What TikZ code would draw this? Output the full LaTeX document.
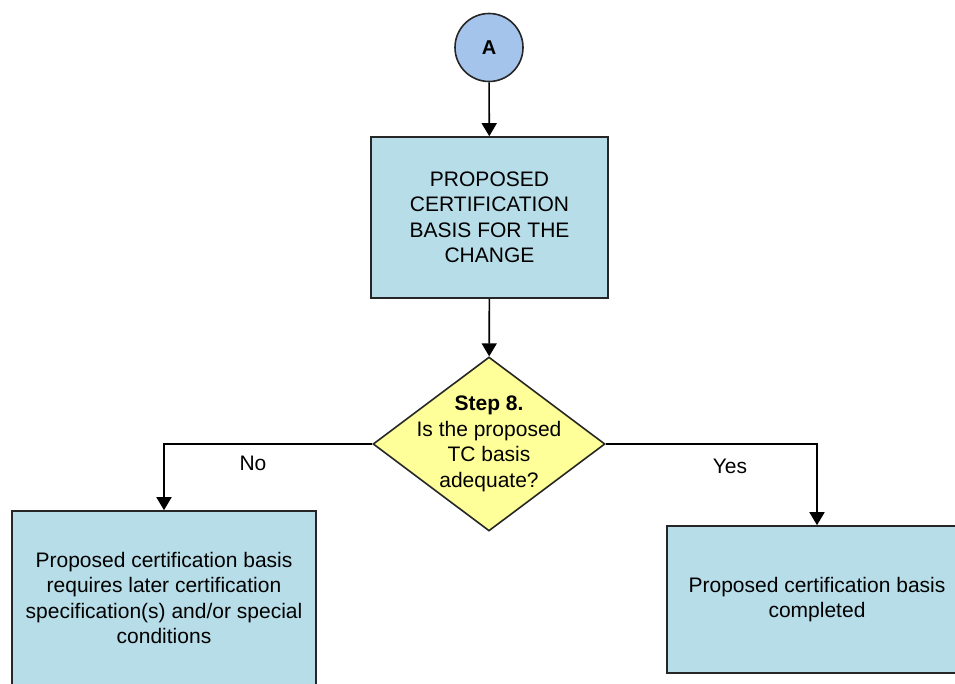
\documentclass[tikz,border=0pt]{standalone}
\usepackage{fontspec}
\setmainfont{Liberation Sans}
\usetikzlibrary{shapes.geometric,arrows.meta}

\definecolor{boxblue}{RGB}{183,221,232}
\definecolor{circblue}{RGB}{165,196,236}
\definecolor{qyellow}{RGB}{255,255,153}
\definecolor{edgegray}{RGB}{38,38,38}

\begin{document}
\begin{tikzpicture}[x=1pt,y=-1pt,
  every node/.style={font=\fontsize{21}{25.5}\selectfont, text=black},
  procbox/.style={rectangle, draw=edgegray, line width=1.6pt, fill=boxblue,
                  inner sep=0pt, align=center},
  connector/.style={circle, draw=edgegray, line width=1.6pt, fill=circblue,
                    minimum size=68pt, inner sep=0pt,
                    font=\fontsize{20}{24}\selectfont\bfseries},
  decision/.style={diamond, draw=edgegray, line width=1.6pt, fill=qyellow,
                   minimum width=232pt, minimum height=174pt, inner sep=0pt},
  qtext/.style={align=center},
  flow/.style={draw=black, line width=1.6pt,
               -{Triangle[width=15pt,length=13pt]}},
  branch/.style={inner sep=0pt}
]
  \useasboundingbox (0,0) rectangle (955,684);
  \clip (0,0) rectangle (955,684);
  \fill[white] (0,0) rectangle (955,684);

  % off-page connector and the main process box
  \node[connector] (A) at (489,47.5) {A};
  \node[procbox, minimum width=237pt, minimum height=161pt] (basis) at (489.5,217.5)
    {PROPOSED\\CERTIFICATION\\BASIS FOR THE\\CHANGE};

  % decision step
  \node[decision] (q) at (489,444) {};
  \node[qtext] (qlabel) at (q.center)
    {\textbf{Step 8.}\\Is the proposed\\TC basis\\adequate?};

  % outcomes
  \node[procbox, minimum width=304pt, minimum height=174pt] (later) at (164,598)
    {Proposed certification basis\\requires later certification\\specification(s) and/or special\\conditions};
  \node[procbox, minimum width=300pt, minimum height=147pt] (done) at (817,599.5)
    {Proposed certification basis\\completed};

  % connectors
  \draw[flow] (A) -- (basis);
  \draw[flow] (basis) -- (q);
  \draw[flow] (q.west) -| (later.north);
  \draw[flow] (q.east) -| (done.north);

  % branch labels
  \node[branch] (nolabel) at (253,463) {No};
  \node[branch] (yeslabel) at (730,466) {Yes};
\end{tikzpicture}
\end{document}
